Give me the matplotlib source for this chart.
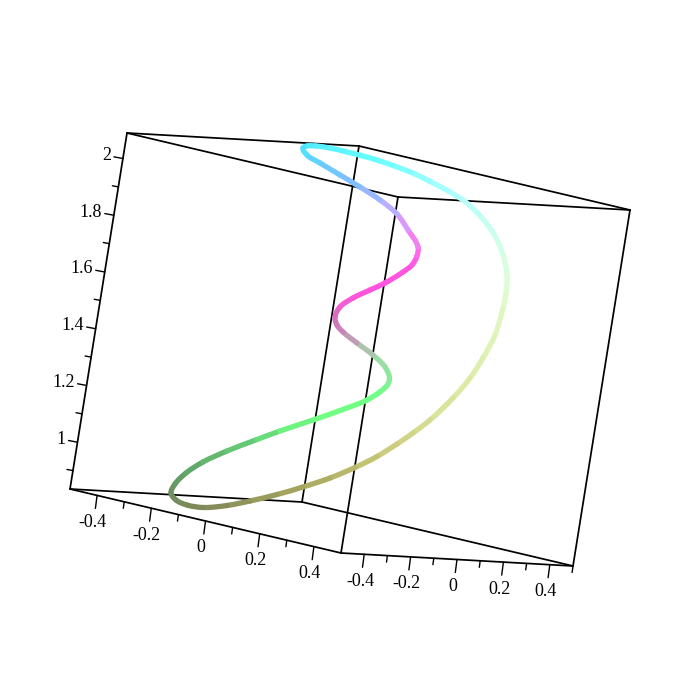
import numpy as np
import matplotlib
matplotlib.use("Agg")
import matplotlib.pyplot as plt
from matplotlib.collections import PathCollection
from matplotlib.colors import to_rgb
from matplotlib.path import Path


# Box limits and tick values.
xRange = [-0.5, 0.5]
yRange = [-0.5, 0.5]
zRange = [0.835, 2.09]

xMajor = [-0.4, -0.2, 0., 0.2, 0.4]
xMinor = [-0.3, -0.1, 0.1, 0.3]
yMajor = [-0.4, -0.2, 0., 0.2, 0.4]
yMinor = [-0.3, -0.1, 0.1, 0.3, 0.5]
zMajor = [1., 1.2, 1.4, 1.6, 1.8, 2.]
zMinor = [0.9, 1.1, 1.3, 1.5, 1.7, 1.9]

xLabels = ['-0.4', '-0.2', '0', '0.2', '0.4']
yLabels = ['-0.4', '-0.2', '0', '0.2', '0.4']
zLabels = ['1', '1.2', '1.4', '1.6', '1.8', '2']

# Curve as seen on the image (picture coordinates).
curveX = [303, 307, 316, 330, 347, 363, 380, 397, 415, 433, 450, 465, 482, 495,
          503, 507, 506, 503, 495, 483, 470, 453, 430, 413, 397, 377, 355, 330,
          303, 277, 250, 227, 203, 187, 176, 171, 175, 186, 203, 227, 257, 280,
          313, 340, 367, 381, 388, 389.5, 385, 373, 357, 343, 337, 335, 340, 353,
          370, 385, 403, 412, 417, 418, 408, 397, 380, 360, 340, 320, 307, 303]
curveY = [148, 146, 146, 148, 152, 156, 161, 167, 174, 183, 192, 201.5, 218, 236,
          255, 275, 293, 308, 335, 358, 378, 398, 420, 433, 444, 456.5, 467.5, 478,
          487, 494.5, 501, 505.5, 507.5, 505, 500, 493, 484, 473, 462, 451, 439.5, 431,
          420, 410.5, 400, 391, 384, 378, 367, 355, 343, 332, 325, 317, 307, 298,
          290, 283, 272, 265, 256, 247, 230, 214, 200, 187, 175, 163, 155, 148]

# Colour read at some of the curve points: point index, colour.
colorIndex = [0, 6, 10, 13, 16, 21, 25, 28, 32, 35, 37, 40, 42, 45, 49, 50, 51,
              53, 55, 59, 61, 63, 65, 67, 69]
colorValue = ['#4de6ff', '#66ffff', '#aaffff', '#ccffee', '#e0fcd0', '#dde8a0',
              '#c8c878', '#a8a860', '#808858', '#709060', '#60a068', '#66d078',
              '#70ff80', '#70ff88', '#a0d8a8', '#b8b0b0', '#c888b8', '#d070b8',
              '#ff55dd', '#ff55e0', '#ff70ee', '#cca8ff', '#88bbff', '#66ccff',
              '#4de6ff']


# Orthographic view: where the box corner and the three box edges fall on the image.
origin = np.array([70., 489.])
edgeX = np.array([271., 64.])
edgeY = np.array([232., 13.])
edgeZ = np.array([57., -356.])

def project(x, y, z):
    u = (x - xRange[0]) / (xRange[1] - xRange[0])
    v = (y - yRange[0]) / (yRange[1] - yRange[0])
    w = (z - zRange[0]) / (zRange[1] - zRange[0])
    return origin + u * edgeX + v * edgeY + w * edgeZ

def edge(ax, p, q, lw=1.25):
    ax.plot([p[0], q[0]], [p[1], q[1]], color='k', lw=lw, solid_capstyle='round', zorder=2)


fig = plt.figure(figsize=(7, 7), dpi=100)
ax = fig.add_axes([0, 0, 1, 1])
ax.set_xlim(0, 700)
ax.set_ylim(700, 0)
ax.axis('off')

# Box edges.
x0, x1 = xRange
y0, y1 = yRange
z0, z1 = zRange
for z in (z0, z1):
    edge(ax, project(x0, y0, z), project(x1, y0, z))
    edge(ax, project(x1, y0, z), project(x1, y1, z))
    edge(ax, project(x1, y1, z), project(x0, y1, z))
    edge(ax, project(x0, y1, z), project(x0, y0, z))
for x, y in ((x0, y0), (x1, y0), (x1, y1), (x0, y1)):
    edge(ax, project(x, y, z0), project(x, y, z1))

# Ticks and labels.
font = dict(family='Liberation Serif', fontsize=13, color='k')
for x, label in zip(xMajor, xLabels):
    p = project(x, y0, z0)
    edge(ax, p, p + [-1.7, 13.], lw=1.)
    ax.text(p[0] - 4.5, p[1] + 27, label, ha='center', va='center', **font)
for x in xMinor:
    p = project(x, y0, z0)
    edge(ax, p, p + [-0.9, 6.5], lw=1.)
for y, label in zip(yMajor, yLabels):
    p = project(x1, y, z0)
    edge(ax, p, p + [-1.7, 13.], lw=1.)
    ax.text(p[0] - 4, p[1] + 27, label, ha='center', va='center', **font)
for y in yMinor:
    p = project(x1, y, z0)
    edge(ax, p, p + [-0.9, 6.5], lw=1.)
for z, label in zip(zMajor, zLabels):
    p = project(x0, y0, z)
    edge(ax, p, p + [-9., -1.7], lw=1.)
    ax.text(p[0] - 12, p[1] - 3, label, ha='right', va='center', **font)
for z in zMinor:
    p = project(x0, y0, z)
    edge(ax, p, p + [-6., -1.1], lw=1.)

# The curve is closed: one bezier piece per pair of read points, one colour per piece.
points = np.column_stack([curveX, curveY])
ring = points[:-1]
chord = np.roll(ring, -1, axis=0) - ring
chord = chord / np.linalg.norm(chord, axis=1, keepdims=True)
tangent = chord + np.roll(chord, 1, axis=0)
tangent = tangent / np.linalg.norm(tangent, axis=1, keepdims=True)
paths = []
for i in range(len(ring)):
    j = (i + 1) % len(ring)
    step = np.linalg.norm(ring[j] - ring[i]) / 3.
    paths.append(Path([ring[i], ring[i] + tangent[i] * step, ring[j] - tangent[j] * step, ring[j]],
                      [Path.MOVETO, Path.CURVE4, Path.CURVE4, Path.CURVE4]))

stops = np.array([to_rgb(c) for c in colorValue])
mid = np.arange(len(ring)) + 0.5
colors = np.column_stack([np.interp(mid, colorIndex, stops[:, i]) for i in range(3)])
curve = PathCollection(paths, facecolors='none', edgecolors=colors, linewidths=3.8,
                       capstyle='round', zorder=3, transform=ax.transData)
ax.add_collection(curve, autolim=False)

fig.savefig('out.png', dpi=100)
